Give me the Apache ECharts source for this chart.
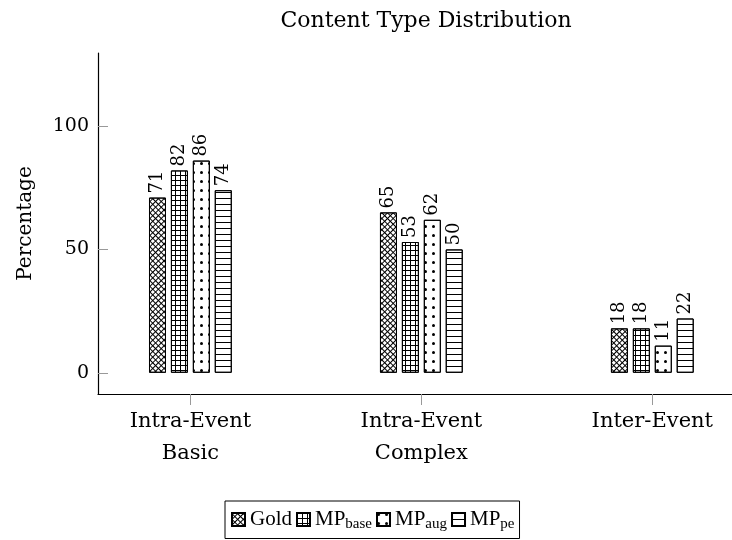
<!DOCTYPE html>
<html lang="en">
<head>
    <meta charset="UTF-8">
    <title>Content Type Distribution</title>
    <script src="https://cdn.jsdelivr.net/npm/echarts@6/dist/echarts.min.js"></script>
    <style>
        html, body { margin: 0; padding: 0; background: #fff; }
        #chart { width: 732px; height: 540px; }
    </style>
</head>
<body>
    <div id="chart"></div>
    <script>
        // categories and values
        var categories = ['Intra-Event\nBasic', 'Intra-Event\nComplex', 'Inter-Event'];
        var catPos = [0, 1, 2];
        var goldVals = [71, 65, 18];
        var mpBaseVals = [82, 53, 18];
        var mpAugVals = [86, 62, 11];
        var mpPeVals = [74, 50, 22];
        var yTicks = [0, 50, 100];

        var FONT = 'DejaVu Serif';
        var LEGEND_FONT = 'Liberation Serif';

        // hatch patterns (pgfplots style)
        var crossHatch = {
            symbol: 'rect', symbolSize: 1, color: '#000', backgroundColor: 'rgba(0,0,0,0)',
            dashArrayX: [[4, 0], [1, 3]], dashArrayY: [1, 0, 3, 0], rotation: Math.PI / 4
        };
        var gridHatch = {
            symbol: 'rect', symbolSize: 1, color: '#000', backgroundColor: 'rgba(0,0,0,0)',
            dashArrayX: [[5, 0], [1, 4]], dashArrayY: [1, 0, 4, 0], rotation: 0
        };
        var dotHatch = {
            symbol: 'circle', symbolSize: 1, color: '#000', backgroundColor: 'rgba(0,0,0,0)',
            dashArrayX: [[3, 5]], dashArrayY: [3, 6], rotation: 0
        };
        var lineHatch = {
            symbol: 'rect', symbolSize: 1, color: '#000', backgroundColor: 'rgba(0,0,0,0)',
            dashArrayX: [[6, 0]], dashArrayY: [1, 5], rotation: 0
        };

        function pairs (vals) {
            return vals.map(function (v, i) { return [catPos[i], v]; });
        }

        function makeSeries (name, vals, decal) {
            return {
                name: name,
                type: 'bar',
                data: pairs(vals),
                barWidth: 17,
                barGap: '29%',
                itemStyle: { color: '#fff', borderColor: '#000', borderWidth: 1, decal: decal },
                label: {
                    show: true, position: 'top', rotate: 90, distance: 4,
                    align: 'left', verticalAlign: 'middle',
                    fontFamily: FONT, fontSize: 18, color: '#000',
                    formatter: function (p) { return p.value[1]; }
                }
            };
        }

        var myChart = echarts.init(document.getElementById('chart'));

        var option = {
            animation: false,
            title: {
                text: 'Content Type Distribution',
                left: 421, top: 5, textAlign: 'center',
                textStyle: { fontFamily: FONT, fontWeight: 'normal', fontSize: 22, color: '#000' }
            },
            // plot area runs past the right edge of the window, as in the original
            grid: { left: 98, right: 0, top: 53, bottom: 146, containLabel: false },
            legend: {
                top: 501, left: 225,
                icon: 'rect',
                itemWidth: 13, itemHeight: 13, itemGap: 4,
                borderColor: '#000', borderWidth: 1, padding: [8, 5, 7, 6],
                textStyle: {
                    fontFamily: LEGEND_FONT, fontSize: 21, color: '#000',
                    rich: {
                        m: { fontFamily: LEGEND_FONT, fontSize: 21, color: '#000' },
                        s: { fontFamily: LEGEND_FONT, fontSize: 15, color: '#000', padding: [9, 0, 0, 0] }
                    }
                },
                formatter: function (name) {
                    var parts = name.split('_');
                    if (parts.length < 2) return '{m|' + name + '}';
                    return '{m|' + parts[0] + '}{s|' + parts[1] + '}';
                }
            },
            xAxis: {
                type: 'value', min: -0.4, max: 2.345,
                splitLine: { show: false },
                axisLine: { show: true, onZero: false, lineStyle: { color: '#000', width: 1.2 } },
                axisTick: { show: true, length: 11, inside: false, customValues: catPos, lineStyle: { color: '#999' } },
                axisLabel: {
                    customValues: catPos, margin: 12, lineHeight: 32,
                    fontFamily: FONT, fontSize: 21, color: '#000',
                    formatter: function (v) { return categories[Math.round(v)]; }
                }
            },
            yAxis: {
                type: 'value', min: -8.6, max: 129.6,
                name: 'Percentage', nameLocation: 'middle', nameGap: 62,
                nameTextStyle: { fontFamily: FONT, fontSize: 20, color: '#000' },
                splitLine: { show: false },
                axisLine: { show: true, onZero: false, lineStyle: { color: '#000', width: 1.2 } },
                axisTick: { show: true, length: 10, inside: true, customValues: yTicks, lineStyle: { color: '#999' } },
                axisLabel: {
                    customValues: yTicks, margin: 9,
                    fontFamily: FONT, fontSize: 19, color: '#000'
                }
            },
            series: [
                makeSeries('Gold', goldVals, crossHatch),
                makeSeries('MP_base', mpBaseVals, gridHatch),
                makeSeries('MP_aug', mpAugVals, dotHatch),
                makeSeries('MP_pe', mpPeVals, lineHatch)
            ]
        };
        myChart.setOption(option);
    </script>
</body>
</html>
